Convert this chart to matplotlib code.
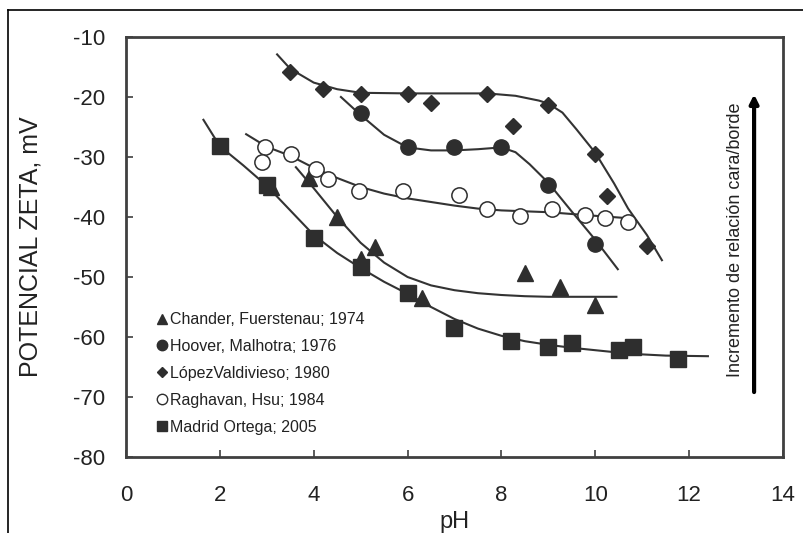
import matplotlib
matplotlib.use("Agg")
import matplotlib.pyplot as plt
from matplotlib.lines import Line2D

plt.rcParams['font.family'] = ['Liberation Sans', 'DejaVu Sans']
plt.rcParams['axes.unicode_minus'] = False

# ---- data ----
chander_x = [3.1, 3.9, 4.5, 5.0, 5.3, 6.3, 8.5, 9.25, 10.0]
chander_y = [-35.0, -33.5, -40.0, -47.0, -45.0, -53.5, -49.3, -51.6, -54.7]
chander_fit_x = [3.62, 4.0, 4.5, 5.0, 5.5, 6.0, 6.5, 7.0, 7.5, 8.0, 8.5, 9.0, 9.5, 10.45]
chander_fit_y = [-31.7, -35.2, -40.0, -44.3, -47.6, -50.0, -51.4, -52.2, -52.7, -53.0, -53.2, -53.3, -53.3, -53.3]

hoover_x = [5.0, 6.0, 7.0, 8.0, 9.0, 10.0]
hoover_y = [-22.7, -28.4, -28.4, -28.3, -34.7, -44.5]
hoover_fit_x = [4.58, 5.0, 5.5, 6.0, 6.5, 7.0, 7.5, 8.0, 8.3, 8.6, 9.0, 9.5, 10.0, 10.48]
hoover_fit_y = [-20.0, -23.0, -26.3, -28.4, -28.9, -28.9, -28.7, -28.4, -29.2, -31.2, -34.3, -39.1, -43.8, -48.7]

lopez_x = [3.5, 4.2, 5.0, 6.0, 6.5, 7.7, 8.25, 9.0, 10.0, 10.25, 11.1]
lopez_y = [-15.8, -18.7, -19.5, -19.5, -21.0, -19.5, -24.8, -21.3, -29.5, -36.5, -44.8]
lopez_fit_x = [3.22, 3.5, 4.0, 4.5, 5.0, 6.0, 7.0, 7.7, 8.3, 8.8, 9.0, 9.3, 9.6, 10.0, 10.4, 10.7, 11.1, 11.42]
lopez_fit_y = [-12.9, -15.3, -17.6, -18.7, -19.3, -19.4, -19.4, -19.4, -19.8, -20.6, -21.1, -22.6, -25.4, -29.3, -34.4, -38.6, -43.0, -47.2]

raghavan_x = [2.96, 2.89, 3.51, 4.05, 4.31, 4.97, 5.9, 7.1, 7.7, 8.4, 9.07, 9.78, 10.2, 10.7]
raghavan_y = [-28.4, -30.8, -29.5, -32.0, -33.6, -35.7, -35.7, -36.4, -38.7, -39.8, -38.6, -39.7, -40.2, -40.8]
raghavan_fit_x = [2.56, 3.0, 3.5, 4.0, 4.5, 5.0, 5.5, 6.0, 6.5, 7.0, 7.5, 8.0, 9.0, 10.0, 10.7]
raghavan_fit_y = [-26.2, -28.3, -29.8, -31.8, -33.5, -35.0, -36.1, -36.9, -37.5, -38.1, -38.6, -38.9, -39.2, -39.8, -40.2]

madrid_x = [2.0, 3.0, 4.0, 5.0, 6.0, 7.0, 8.2, 9.0, 9.5, 10.5, 10.8, 11.77]
madrid_y = [-28.2, -34.7, -43.5, -48.3, -52.7, -58.5, -60.7, -61.6, -61.0, -62.2, -61.6, -63.6]
madrid_fit_x = [1.65, 2.0, 2.5, 3.0, 3.5, 4.0, 4.5, 5.0, 5.5, 6.0, 6.5, 7.0, 7.5, 8.0, 8.5, 9.0, 9.5, 10.0, 10.5, 11.0, 11.5, 12.4]
madrid_fit_y = [-23.8, -28.2, -31.4, -34.8, -38.9, -43.0, -46.0, -48.5, -50.8, -52.8, -55.0, -57.0, -58.6, -59.8, -60.7, -61.3, -61.8, -62.2, -62.6, -62.9, -63.1, -63.2]

labels = ["Chander, Fuerstenau; 1974", "Hoover, Malhotra; 1976",
          "LópezValdivieso; 1980", "Raghavan, Hsu; 1984", "Madrid Ortega; 2005"]
x_ticks = [0, 2, 4, 6, 8, 10, 12, 14]
y_ticks = [-10, -20, -30, -40, -50, -60, -70, -80]

DARK = "#2e2e2e"
LINE = "#333333"

fig = plt.figure(figsize=(8.04, 5.33), dpi=100)
ax = fig.add_axes([126/804, 1 - 457/533, (783-126)/804, (457-37)/533])

# fitted curves
for fx, fy in [(chander_fit_x, chander_fit_y), (hoover_fit_x, hoover_fit_y),
               (lopez_fit_x, lopez_fit_y), (raghavan_fit_x, raghavan_fit_y),
               (madrid_fit_x, madrid_fit_y)]:
    ax.plot(fx, fy, color=LINE, lw=1.5, zorder=2)

# data points
h1, = ax.plot(chander_x, chander_y, ls='none', marker='^', ms=11, mfc=DARK, mec=DARK, zorder=3)
h2, = ax.plot(hoover_x, hoover_y, ls='none', marker='o', ms=11, mfc=DARK, mec=DARK, zorder=3)
h3, = ax.plot(lopez_x, lopez_y, ls='none', marker='D', ms=8, mfc=DARK, mec=DARK, zorder=3)
h4, = ax.plot(raghavan_x, raghavan_y, ls='none', marker='o', ms=11, mfc='white', mec=DARK, mew=1.1, zorder=3)
h5, = ax.plot(madrid_x, madrid_y, ls='none', marker='s', ms=12, mfc=DARK, mec=DARK, zorder=3)

# legend (small markers)
lh = [Line2D([], [], ls='none', marker='^', ms=7, mfc=DARK, mec=DARK),
      Line2D([], [], ls='none', marker='o', ms=7.5, mfc=DARK, mec=DARK),
      Line2D([], [], ls='none', marker='D', ms=5, mfc=DARK, mec=DARK),
      Line2D([], [], ls='none', marker='o', ms=7.5, mfc='white', mec=DARK, mew=1),
      Line2D([], [], ls='none', marker='s', ms=7.5, mfc=DARK, mec=DARK)]
leg = ax.legend(lh, labels, loc='upper left', bbox_to_anchor=(0.048, 0.345),
                frameon=False, handlelength=0.6, handletextpad=0.15,
                labelspacing=0.75, borderpad=0, borderaxespad=0,
                prop={'size': 11.5})
for t in leg.get_texts():
    t.set_color("#222222")

ax.set_xlim(0, 14)
ax.set_ylim(-80, -10)
ax.set_xticks(x_ticks)
ax.set_yticks(y_ticks)
ax.tick_params(axis='both', direction='in', length=5, width=1.2, color="#404040",
               labelsize=16, labelcolor="#222222", top=False, right=False)
ax.tick_params(axis='x', pad=20)
ax.tick_params(axis='y', pad=15)
for s in ax.spines.values():
    s.set_color("#404040")
    s.set_linewidth(2)

ax.set_xlabel("pH", fontsize=17, color="#222222", labelpad=4)
ax.set_ylabel("POTENCIAL ZETA, mV", fontsize=18, color="#222222", labelpad=22)

# annotation arrow and text
ax.annotate("", xy=(0.956, 0.870), xytext=(0.956, 0.148), xycoords='axes fraction',
            arrowprops=dict(arrowstyle='-|>,head_length=0.5,head_width=0.25', lw=3, color='black'))
ax.text(0.927, 0.517, "Incremento de relación cara/borde", transform=ax.transAxes,
        rotation=90, ha='center', va='center', fontsize=13, color="#222222")

# outer frame lines
fig.add_artist(Line2D([8/804, 8/804], [0, 1 - 10/533], transform=fig.transFigure, color='black', lw=1.2))
fig.add_artist(Line2D([8/804, 1], [1 - 10/533, 1 - 10/533], transform=fig.transFigure, color='black', lw=1.2))

fig.savefig("out.png", dpi=100)
